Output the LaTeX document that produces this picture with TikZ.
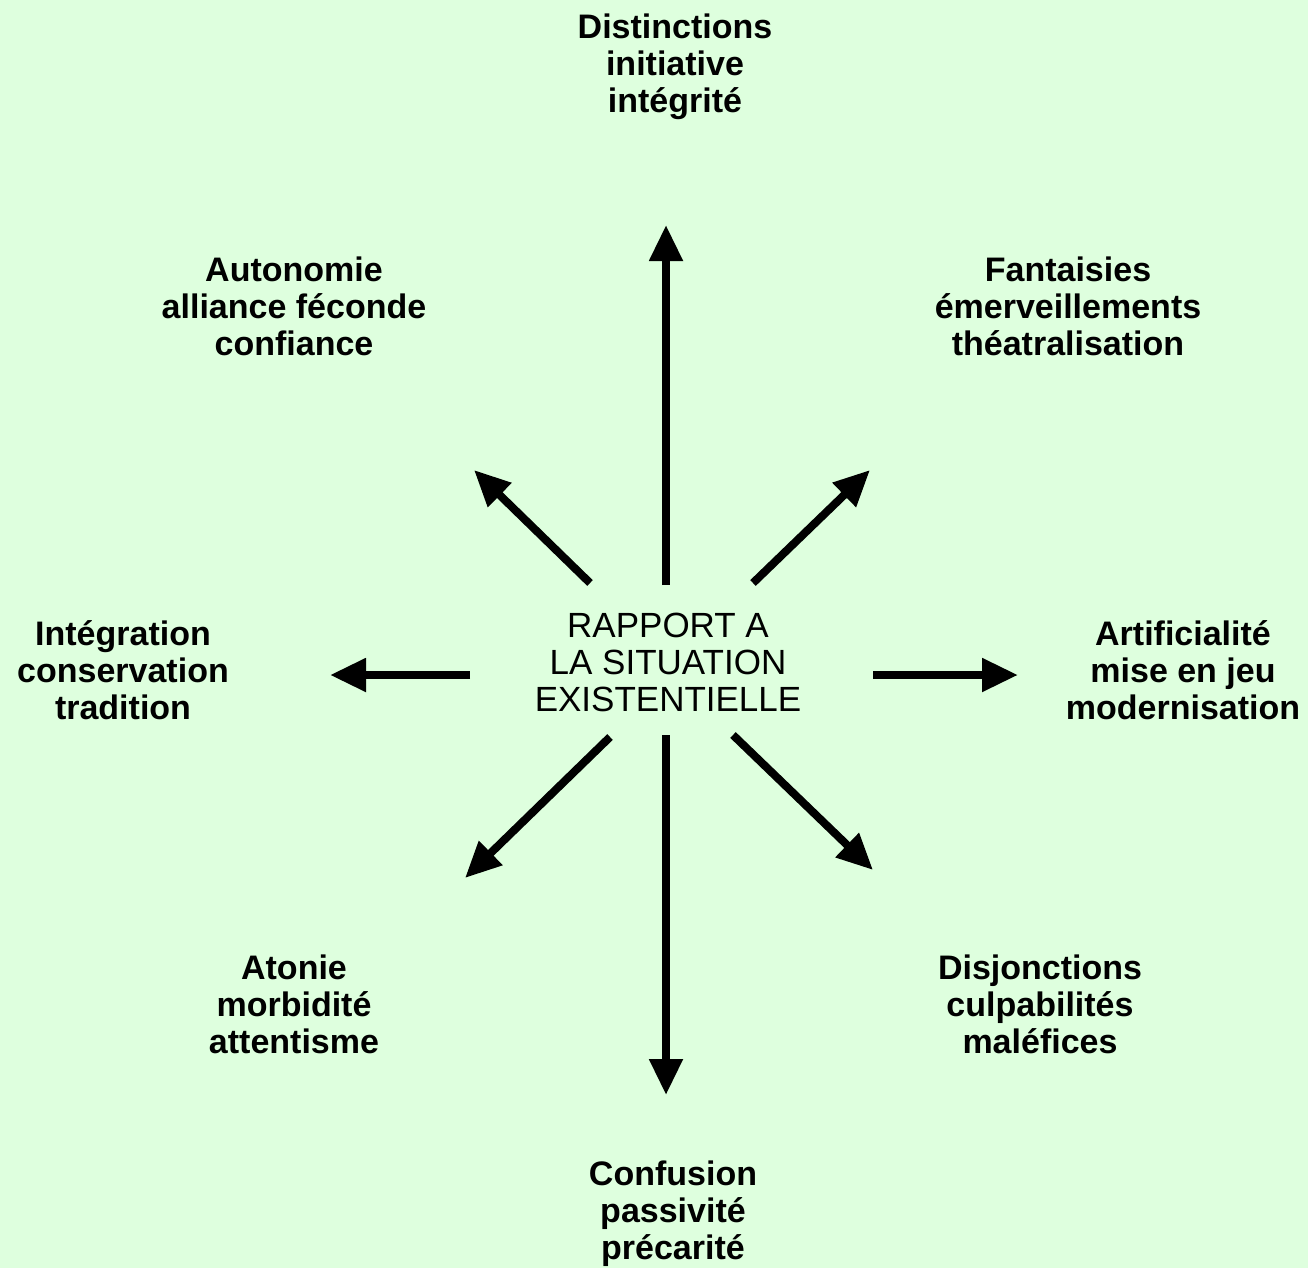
\documentclass[tikz,border=0pt]{standalone}
\usepackage{fontspec}
\setmainfont{Liberation Sans}
\usetikzlibrary{arrows.meta}
\definecolor{bg}{RGB}{222,255,222}
\begin{document}
\begin{tikzpicture}[x=1pt,y=-1pt,
  lbl/.style={align=center,inner sep=0pt,font=\fontsize{34}{37}\selectfont\bfseries},
  ctr/.style={align=center,inner sep=0pt,font=\fontsize{35}{37}\selectfont},
  arr/.style={line width=8pt,-{Triangle[length=36pt,width=32pt]}}]
\fill[bg] (0,0) rectangle (1308,1268);
\useasboundingbox (0,0) rectangle (1308,1268);
\node[ctr] (c) at (668,662) {RAPPORT A\\LA SITUATION\\EXISTENTIELLE};
\node[lbl] (n) at (675,67) {Distinctions\\initiative\\intégrité};
\node[lbl] (nw) at (294,306) {Autonomie\\alliance féconde\\confiance};
\node[lbl] (ne) at (1068,306) {Fantaisies\\émerveillements\\théatralisation};
\node[lbl] (w) at (123,670) {Intégration\\conservation\\tradition};
\node[lbl] (e) at (1183,670) {Artificialité\\mise en jeu\\modernisation};
\node[lbl] (sw) at (294,1004) {Atonie\\morbidité\\attentisme};
\node[lbl] (se) at (1040,1004) {Disjonctions\\culpabilités\\maléfices};
\node[lbl] (s) at (673,1214) {Confusion\\passivité\\précarité};
\coordinate (an0) at (666,585); \coordinate (an1) at (666,225);
\coordinate (as0) at (666,735); \coordinate (as1) at (666,1095);
\coordinate (aw0) at (470,675); \coordinate (aw1) at (330,675);
\coordinate (ae0) at (873,675); \coordinate (ae1) at (1018,675);
\coordinate (anw0) at (590,583); \coordinate (anw1) at (474,470);
\coordinate (ane0) at (753,583); \coordinate (ane1) at (870,470);
\coordinate (asw0) at (610,737); \coordinate (asw1) at (465,878);
\coordinate (ase0) at (733,735); \coordinate (ase1) at (873,870);
\draw[arr] (an0) -- (an1);
\draw[arr] (as0) -- (as1);
\draw[arr] (aw0) -- (aw1);
\draw[arr] (ae0) -- (ae1);
\draw[arr] (anw0) -- (anw1);
\draw[arr] (ane0) -- (ane1);
\draw[arr] (asw0) -- (asw1);
\draw[arr] (ase0) -- (ase1);
\end{tikzpicture}
\end{document}
